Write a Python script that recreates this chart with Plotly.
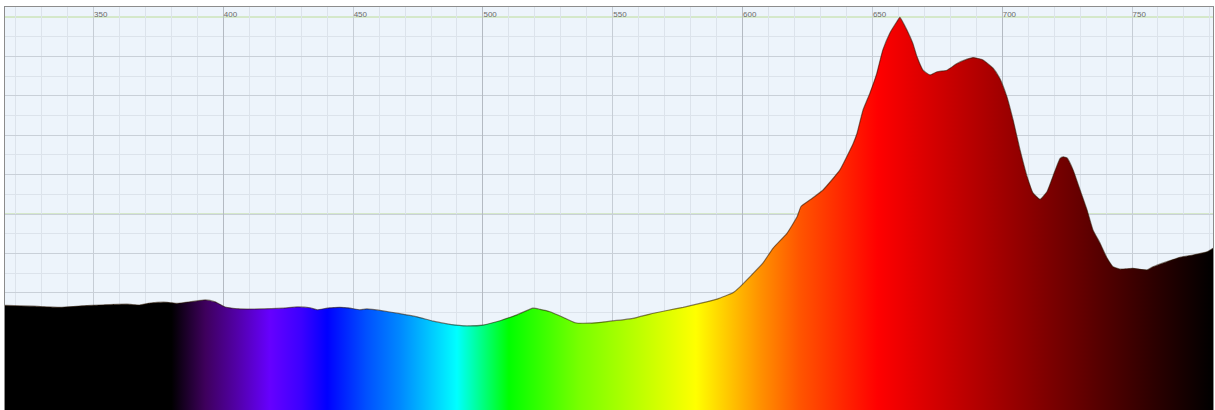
import plotly.graph_objects as go

# ---- data ----
wavelength_nm = [315.9, 326.7, 337.1, 346.0, 352.5, 362.9, 367.9, 371.8, 378.4, 382.2,
                 387.2, 393.0, 396.8, 400.7, 406.4, 414.1, 423.0, 428.4, 433.4, 436.1,
                 440.0, 444.9, 448.8, 452.6, 455.3, 461.5, 468.0, 474.6, 480.8, 487.3,
                 493.8, 500.0, 506.6, 513.1, 519.3, 522.0, 525.8, 530.8, 535.5, 541.3,
                 547.8, 557.8, 564.3, 570.9, 577.1, 583.6, 590.2, 596.3, 599.0, 602.9,
                 607.8, 611.7, 617.1, 621.0, 622.5, 626.0, 631.0, 637.5, 642.6, 644.1,
                 646.4, 649.0, 651.7, 654.0, 656.7, 659.4, 660.6, 663.3, 665.6, 667.2,
                 669.5, 672.2, 674.9, 678.7, 682.6, 686.5, 688.8, 692.6, 696.5, 699.1,
                 701.8, 704.2, 706.9, 709.6, 711.9, 714.6, 717.3, 720.2, 722.3, 723.5,
                 725.0, 727.3, 730.0, 732.7, 735.0, 737.7, 740.4, 742.7, 745.4, 750.4,
                 755.8, 758.1, 763.5, 768.5, 773.5, 778.9, 781.2]
intensity = [26.8, 26.6, 26.3, 26.7, 26.9, 27.1, 26.9, 27.4, 27.6, 27.3,
             27.7, 28.2, 27.7, 26.4, 25.9, 25.9, 26.1, 26.4, 26.2, 25.7,
             26.1, 26.3, 26.1, 25.7, 25.9, 25.4, 24.7, 23.9, 22.8, 22.0,
             21.6, 21.8, 22.9, 24.4, 26.1, 25.8, 25.2, 23.8, 22.4, 22.3,
             22.7, 23.5, 24.6, 25.5, 26.3, 27.3, 28.4, 30.0, 31.5, 34.1,
             37.5, 41.3, 45.1, 49.3, 51.9, 53.6, 56.1, 61.2, 67.9, 70.5,
             76.4, 80.6, 85.7, 91.6, 95.9, 98.8, 99.9, 96.7, 93.3, 89.9,
             86.5, 85.3, 86.1, 86.5, 88.2, 89.3, 89.7, 89.1, 87.0, 84.4,
             79.8, 73.9, 66.2, 59.5, 55.3, 53.7, 55.7, 60.7, 64.1, 64.5,
             64.2, 61.2, 56.1, 51.0, 45.9, 42.6, 38.8, 36.6, 36.0, 36.2,
             35.8, 36.6, 37.9, 39.0, 39.6, 40.4, 41.3]
tick_values = [350, 400, 450, 500, 550, 600, 650, 700, 750]
tick_labels = [str(v) for v in tick_values]

# ---- style ----
X_MIN, X_MAX = 315.9, 781.2
spectrum_stops = [
    (315.9, "#000000"), (380.0, "#000000"), (393.0, "#3e005c"), (405.0, "#5200a6"),
    (418.0, "#6600ff"), (430.0, "#3c00ff"), (440.0, "#0000ff"), (455.0, "#0050ff"),
    (468.0, "#0088ff"), (490.0, "#00ffff"), (500.0, "#00ff80"), (510.0, "#00ff00"),
    (537.0, "#78ff00"), (582.0, "#ffff00"), (607.0, "#ff9000"), (622.0, "#ff5500"),
    (652.0, "#ff0000"), (700.0, "#a00000"), (740.0, "#510000"), (781.2, "#000000"),
]
colorscale = [[(w - X_MIN) / (X_MAX - X_MIN), c] for w, c in spectrum_stops]

BG = "#edf4fb"
fig = go.Figure()
fig.add_trace(go.Scatter(
    x=wavelength_nm, y=intensity, mode="lines",
    line=dict(color="rgba(40,20,0,0.55)", width=1.2, shape="spline", smoothing=0.4),
    fill="tozeroy",
    fillgradient=dict(type="horizontal", colorscale=colorscale, start=X_MIN, stop=X_MAX),
    hoverinfo="skip", showlegend=False,
))
# darker 100-nm gridlines on an overlay axis
fig.add_trace(go.Scatter(x=[X_MIN, X_MAX], y=[None, None], xaxis="x2", showlegend=False))

fig.update_layout(
    width=1215, height=410,
    margin=dict(l=5, r=2, t=7, b=0, pad=0, autoexpand=False),
    paper_bgcolor="white", plot_bgcolor=BG,
    xaxis=dict(range=[X_MIN, X_MAX], side="top", tickvals=tick_values, ticktext=tick_labels,
               ticklabelposition="inside right", ticks="", showgrid=True, automargin=False,
               gridcolor="#c6cdd5", gridwidth=1,
               minor=dict(dtick=10, tick0=300, showgrid=True, gridcolor="#dce3eb", gridwidth=1),
               showline=True, linecolor="#8c8c8c", linewidth=1, zeroline=False,
               tickfont=dict(family="Arial, Liberation Sans, sans-serif", size=8, color="#6a6a6a")),
    xaxis2=dict(range=[X_MIN, X_MAX], overlaying="x", dtick=100, tick0=300, showgrid=True,
                automargin=False, gridcolor="#b4bac2", showticklabels=False, ticks="",
                zeroline=False),
    yaxis=dict(range=[0.25, 102.54], dtick=10, tick0=0, showgrid=True, gridcolor="#c9d0d8",
               minor=dict(dtick=5, showgrid=True, gridcolor="#dce3eb"), automargin=False,
               showticklabels=False, ticks="", zeroline=False,
               showline=True, mirror=True, linecolor="#8c8c8c", linewidth=1),
    shapes=[
        dict(type="rect", xref="paper", yref="y", x0=0, x1=1, y0=100, y1=102.54,
             fillcolor=BG, line=dict(width=0), layer="between"),
        dict(type="line", xref="paper", yref="y", x0=0, x1=1, y0=100, y1=100,
             line=dict(color="#bcdc98", width=1), layer="between"),
        dict(type="line", xref="paper", yref="y", x0=0, x1=1, y0=50, y1=50,
             line=dict(color="#bcdc98", width=1), layer="between"),
    ],
)
fig.write_html(
    "out.html",
    config={"displayModeBar": False},
    post_script="document.body.style.margin='0';document.body.style.overflow='hidden';",
)
